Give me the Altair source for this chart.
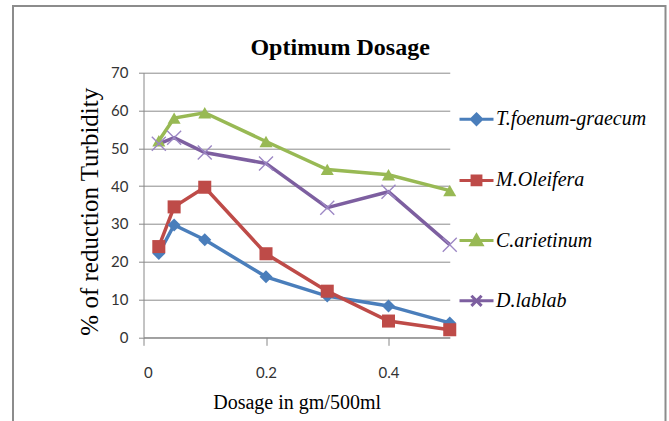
import altair as alt
import pandas as pd

# ---- data ----
dosage = [0.025, 0.05, 0.1, 0.2, 0.3, 0.4, 0.5]
series_names = ["T.foenum-graecum", "M.Oleifera", "C.arietinum", "D.lablab"]
t_foenum = [22.2, 29.7, 25.8, 16.0, 10.9, 8.3, 3.8]
m_oleifera = [24.0, 34.5, 39.7, 22.1, 12.2, 4.3, 2.0]
c_arietinum = [52.0, 58.0, 59.4, 51.8, 44.4, 43.0, 38.8]
d_lablab = [51.2, 52.8, 48.9, 46.0, 34.3, 38.5, 24.5]
x_ticks = [0, 0.2, 0.4]
y_ticks = [0, 10, 20, 30, 40, 50, 60, 70]

colors = ["#4A7EBB", "#BE4B48", "#98B954", "#7D5FA0"]
# legend symbols: a horizontal line segment with a marker drawn as stroked rings
legend_shapes = [
    "M-1,0H1M0,-0.3L0.3,0L0,0.3L-0.3,0ZM0,-0.15L0.15,0L0,0.15L-0.15,0ZM-0.03,0H0.03",
    "M-1,0H1M-0.26,-0.26H0.26V0.26H-0.26ZM-0.13,-0.13H0.13V0.13H-0.13ZM-0.03,0H0.03",
    "M-1,0H1M0,-0.32L0.32,0.24H-0.32ZM0,-0.133L0.16,0.147H-0.16ZM-0.03,0.05H0.03",
    "M-1,0H1M-0.3,-0.3L0.3,0.3M-0.3,0.3L0.3,-0.3",
]
X_PATH = "M-1,-1L1,1M-1,1L1,-1"

rows = []
for name, vals in zip(series_names, [t_foenum, m_oleifera, c_arietinum, d_lablab]):
    for d, v in zip(dosage, vals):
        rows.append({"series": name, "name": name, "dosage": d, "value": v})
df = pd.DataFrame(rows)

W, H = 306.25, 264.6
PL, PT = 143.5, 72.7
PR, PB = 669 - PL - W, 421 - PT - H

x_enc = alt.X(
    "dosage:Q",
    scale=alt.Scale(domain=[0, 0.5], nice=False, zero=False),
    axis=alt.Axis(
        values=x_ticks, format=".1~f", grid=False,
        title="Dosage in gm/500ml", titleFont="Liberation Serif", titleFontSize=20,
        titleFontWeight="normal", titleColor="black", titleBaseline="alphabetic",
        titleY=70.7,
        labelFont="Lato", labelFontSize=15, labelColor="#333333", labelPadding=20,
        tickSize=8, tickColor="#888888", domainColor="#888888",
    ),
)
y_enc = alt.Y(
    "value:Q",
    scale=alt.Scale(domain=[0, 70], nice=False),
    axis=alt.Axis(
        values=y_ticks, grid=True, gridColor="#8C8C8C", gridWidth=1,
        labelOverlap=False,
        title="% of reduction Turbidity", titleFont="Liberation Serif", titleFontSize=25,
        titleFontWeight="normal", titleColor="black", titleBaseline="middle",
        titleX=-54.5, titleY=138.5, titleAngle=270,
        labelFont="Lato", labelFontSize=15, labelColor="#333333", labelPadding=10.5,
        tickSize=5, tickColor="#888888", domainColor="#888888",
    ),
)

color_scale = alt.Scale(domain=series_names, range=colors)

base = alt.Chart(df)

lines = base.mark_line(strokeWidth=3.5).encode(
    x=x_enc, y=y_enc,
    color=alt.Color("series:N", scale=color_scale, legend=None),
)

points = base.transform_filter(alt.datum.series != "D.lablab").mark_point(
    filled=True, size=170, opacity=1
).encode(
    x=x_enc, y=y_enc,
    color=alt.Color("series:N", scale=color_scale, legend=None),
    shape=alt.Shape("series:N", scale=alt.Scale(domain=series_names[:3],
                                                  range=["diamond", "square", "triangle-up"]),
                    legend=None),
)

xmarks = base.transform_filter(alt.datum.series == "D.lablab").mark_point(
    shape=X_PATH, filled=False, size=196, strokeWidth=1.4, color="#9C87C4", opacity=1
).encode(x=x_enc, y=y_enc)

leg = alt.Legend(
    title=None, orient="none", legendX=314.5, legendY=28,
    symbolSize=1156, symbolStrokeWidth=3, symbolOpacity=1,
    rowPadding=31.2, labelFont="Liberation Serif", labelFontStyle="italic",
    labelFontSize=20, labelColor="black", labelOffset=1, padding=0, labelLimit=300,
)
legend_layer = base.transform_filter("false").mark_point(
    filled=False, strokeWidth=3, size=1156, opacity=1
).encode(
    x=x_enc, y=y_enc,
    color=alt.Color("name:N", scale=alt.Scale(domain=series_names, range=colors), legend=leg),
    shape=alt.Shape("name:N", scale=alt.Scale(domain=series_names, range=legend_shapes), legend=leg),
)

border_df = pd.DataFrame({"k": [0]})
border = alt.Chart(border_df).mark_rect(
    fill=None, stroke="#8C8C8C", strokeWidth=2, clip=False
).encode(
    x=alt.value(13 - PL), x2=alt.value(665.5 - PL),
    y=alt.value(6 - PT), y2=alt.value(440 - PT),
)

chart = alt.layer(border, lines, points, xmarks, legend_layer).resolve_scale(
    shape="independent", color="independent"
).properties(
    width=W, height=H,
    background="white",
    title=alt.TitleParams(
        "Optimum Dosage", font="Liberation Serif", fontSize=24, fontWeight="bold",
        color="black", anchor="middle", frame="group", dx=43.5,
        baseline="alphabetic", offset=-74,
    ),
    autosize=alt.AutoSizeParams(type="none"),
    padding={"left": PL, "top": PT, "right": PR, "bottom": PB},
).configure_view(stroke=None)

chart.save("out.html", embed_options={"renderer": "svg", "actions": False})
